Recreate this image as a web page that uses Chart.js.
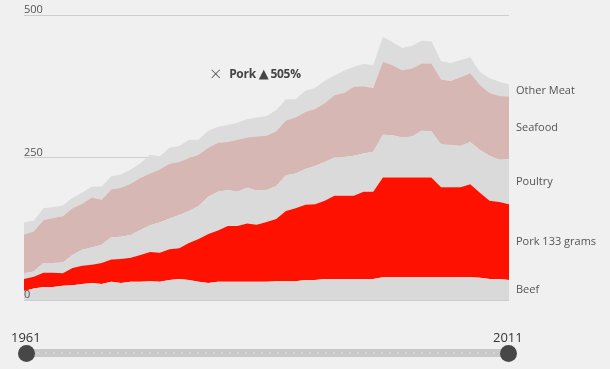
<!DOCTYPE html>
<html>
<head>
<meta charset="utf-8">
<script src="https://cdn.jsdelivr.net/npm/chart.js@4"></script>
<style>
  body{margin:0;background:#f0f0f0;font-family:"Open Sans",sans-serif;}
  #wrap{position:relative;width:610px;height:369px;}
  #note{position:absolute;left:210px;top:60px;color:#444;font-size:12px;font-weight:bold;white-space:nowrap;letter-spacing:-0.3px;}
  #note .x{font-weight:300;font-size:20px;color:#555;vertical-align:-3px;margin-right:8px;}
  #note .up{font-family:"DejaVu Sans",sans-serif;font-size:13px;vertical-align:0px;margin:0 2px 0 3px;}
  .yr{position:absolute;top:328px;font-size:13px;color:#333;}
  #track{position:absolute;left:26px;top:349px;width:482px;height:8px;background-color:#c9c9c9;
    background-image:radial-gradient(circle,#d6d6d6 1px,transparent 1.5px);background-size:8px 8px;}
  .knob{position:absolute;top:345px;width:17px;height:17px;border-radius:50%;background:#474747;}
</style>
</head>
<body>
<div id="wrap">
  <canvas id="chart"></canvas>
  <div id="note"><span class="x">×</span>Pork<span class="up">▲</span>505%</div>
  <div class="yr" style="left:11px;">1961</div>
  <div class="yr" style="left:493px;">2011</div>
  <div id="track"></div>
  <div class="knob" style="left:18px;"></div>
  <div class="knob" style="left:500px;"></div>
</div>
<script>
// годы 1961..2011
const years = [1961,1962,1963,1964,1965,1966,1967,1968,1969,1970,
  1971,1972,1973,1974,1975,1976,1977,1978,1979,1980,
  1981,1982,1983,1984,1985,1986,1987,1988,1989,1990,
  1991,1992,1993,1994,1995,1996,1997,1998,1999,2000,
  2001,2002,2003,2004,2005,2006,2007,2008,2009,2010,2011];

// граммы (стек снизу вверх)
const beef    = [16,20,23,23,25,26,28,30,28,32,30,32,32,33,32,35,37,35,32,30,
  32,32,32,32,32,32,33,33,33,35,35,37,37,37,37,37,37,40,40,40,
  40,40,40,40,40,40,40,39,37,37,35];
const pork    = [21,21,25,25,22,30,32,32,37,39,42,42,47,51,51,54,54,65,75,86,
  90,98,98,102,100,105,109,123,128,132,133,137,146,146,146,153,153,175,175,175,
  175,175,175,158,158,158,163,149,137,135,133];
const poultry = [10,9,17,17,19,23,28,30,32,39,39,40,44,47,53,54,58,56,58,65,
  68,63,60,63,60,56,58,63,61,63,67,68,67,68,70,67,70,75,74,70,
  72,82,81,75,74,72,74,75,79,74,79];
const seafood = [68,70,75,79,81,82,81,88,79,84,86,90,91,91,93,96,93,93,90,86,
  86,84,91,88,95,95,96,96,98,100,100,103,109,112,121,118,112,128,123,118,
  119,118,119,114,112,121,121,114,110,112,110];
const other   = [21,19,21,19,19,18,19,19,23,23,23,25,26,33,23,28,28,32,26,30,
  28,30,30,32,33,35,37,37,32,37,37,39,35,39,35,39,40,44,40,39,
  40,40,39,32,32,30,28,23,26,25,21];

const names  = ['Beef','Pork 133 grams','Poultry','Seafood','Other Meat'];
const series = [beef, pork, poultry, seafood, other];
const colors = ['#d9d9d9','#ff1100','#dadada','#d6b7b4','#dcdcdc'];

// подписи справа + значения оси поверх областей
const overlayText = {
  id:'overlayText',
  afterDraw(chart){
    const ctx = chart.ctx;
    const area = chart.chartArea;
    const yScale = chart.scales.y;
    ctx.save();
    ctx.font = '11px "Open Sans", sans-serif';
    ctx.fillStyle = '#555';
    ctx.textBaseline = 'middle';
    // тики 0 / 250 / 500
    yScale.ticks.forEach(t=>{
      ctx.fillText(String(t.value), area.left, yScale.getPixelForValue(t.value)-5);
    });
    // названия слоёв
    let prevY = area.bottom;
    chart.data.datasets.forEach((ds,i)=>{
      const meta = chart.getDatasetMeta(i);
      const pt = meta.data[meta.data.length-1];
      ctx.fillText(names[i], area.right+7, (pt.y+prevY)/2);
      prevY = pt.y;
    });
    ctx.restore();
  }
};

new Chart(document.getElementById('chart'), {
  type:'line',
  data:{
    labels: years,
    datasets: series.map((d,i)=>({
      label: names[i],
      data: d,
      backgroundColor: colors[i],
      borderColor: colors[i],
      borderWidth: 0,
      pointRadius: 0,
      tension: 0,
      fill: i===0 ? 'origin' : '-1'
    }))
  },
  options:{
    responsive:true,
    maintainAspectRatio:false,
    animation:false,
    layout:{ padding:{ left:24, right:101, top:15, bottom:69 } },
    plugins:{ legend:{ display:false }, tooltip:{ enabled:false } },
    scales:{
      x:{ display:false, offset:false },
      y:{
        stacked:true,
        min:0, max:500,
        z:1,
        border:{ display:false },
        grid:{ color:'rgba(140,140,140,0.35)', drawTicks:false },
        ticks:{ stepSize:250, display:false }
      }
    }
  },
  plugins:[overlayText]
});
</script>
</body>
</html>
